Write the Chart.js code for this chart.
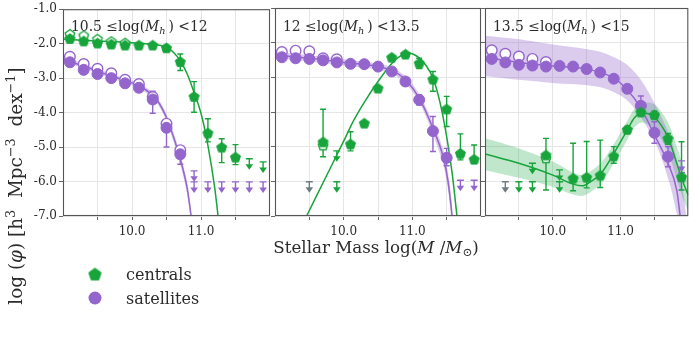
<!DOCTYPE html>
<html><head><meta charset="utf-8">
<script src="https://cdn.jsdelivr.net/npm/chart.js@4.4.1/dist/chart.umd.min.js"></script>
<style>
html,body{margin:0;padding:0;background:#fff;}
#wrap{position:relative;width:695px;height:343px;overflow:hidden;background:#fff;}
#wrap canvas{position:absolute;left:0;top:0;}
</style></head><body><div id="wrap">
<canvas id="p1" width="695" height="343"></canvas>
<canvas id="p2" width="695" height="343"></canvas>
<canvas id="p3" width="695" height="343"></canvas>
</div>
<script>
const N = null;
// ---------- shared bins & ticks ----------
const massBins = [9.1,9.3,9.5,9.7,9.9,10.1,10.3,10.5,10.7,10.9,11.1,11.3,11.5,11.7,11.9];
const xTickLabels = {10: '10.0', 11: '11.0'};
const yTicks = [-1,-2,-3,-4,-5,-6,-7];
const panelTitles = [
  ['10.5 ≤log(', ') <12'],
  ['12 ≤log(', ') <13.5'],
  ['13.5 ≤log(', ') <15']
];
const legendLabels = ['centrals', 'satellites'];

// ---------- Panel 1 : 10.5 <= log Mh < 12 ----------
const cen1     = [-1.85,-1.92,-1.98,-2.01,-2.04,-2.04,-2.04,-2.12,-2.52,-3.53,-4.59,-5.00,-5.29,N,N];
const cen1Open = [-1.72,-1.76,-1.86,-1.93,-1.97,N,N,N,N,N,N,N,N,N,N];
const cen1Hi   = [N,N,N,N,N,N,N,-2.05,-2.30,-3.10,-4.18,-4.76,-4.93,N,N];
const cen1Lo   = [N,N,N,N,N,N,N,-2.20,-2.78,-3.99,-4.85,-5.45,-5.51,N,N];
const cen1Lim  = [N,N,N,N,N,N,N,N,N,N,N,N,N,-5.34,-5.43];
const cen1Lim2 = [N,N,N,N,N,N,N,N,N,N,N,N,N,N,N];
const mix1Lim  = [N,N,N,N,N,N,N,N,N,N,N,N,N,N,N];
const sat1     = [-2.54,-2.76,-2.88,-3.00,-3.15,-3.28,-3.62,-4.44,-5.21,N,N,N,N,N,N];
const sat1Open = [-2.38,-2.59,-2.73,-2.86,-3.05,-3.17,-3.55,-4.32,-5.09,N,N,N,N,N,N];
const sat1Hi   = [-2.45,N,N,N,N,N,-3.38,-4.28,-5.00,N,N,N,N,N,N];
const sat1Lo   = [-2.62,N,N,N,N,N,-4.02,-5.00,-5.50,N,N,N,N,N,N];
const sat1Lim  = [N,N,N,N,N,N,N,N,N,-6.01,-6.01,-6.01,-6.01,-6.01,-6.01];
const sat1Lim2 = [N,N,N,N,N,N,N,N,N,-5.69,N,N,N,N,N];
const cenFit1X = [9.0,9.5,10.0,10.3,10.5,10.6,10.7,10.8,10.9,11.0,11.1,11.2,11.25];
const cenFit1Y = [-1.87,-1.92,-1.97,-2.02,-2.10,-2.25,-2.50,-2.88,-3.42,-4.02,-4.95,-6.20,-7.05];
const satFit1X = [9.0,9.3,9.6,9.9,10.1,10.3,10.4,10.5,10.6,10.7,10.8,10.86];
const satFit1Y = [-2.45,-2.65,-2.87,-3.07,-3.22,-3.50,-3.75,-4.15,-4.70,-5.35,-6.20,-7.05];
const satBand1Hi = [-2.38,-2.58,-2.80,-3.00,-3.15,-3.42,-3.66,-4.04,-4.57,-5.20,-6.02,-6.85];
const satBand1Lo = [-2.52,-2.72,-2.94,-3.14,-3.29,-3.58,-3.84,-4.26,-4.83,-5.50,-6.38,-7.25];

// ---------- Panel 2 : 12 <= log Mh < 13.5 ----------
const cen2     = [N,N,N,-4.86,N,-4.92,-4.32,-3.31,-2.42,-2.33,-2.59,-3.05,-3.91,-5.19,-5.36];
const cen2Open = [N,N,N,-4.96,N,N,N,N,N,N,N,N,N,N,N];
const cen2Hi   = [N,N,N,-3.92,N,-4.57,N,N,N,N,-2.45,-2.83,-3.55,-4.63,-4.95];
const cen2Lo   = [N,N,N,-5.29,N,-5.12,N,N,N,N,-2.75,-3.40,-4.42,-5.38,-5.48];
const cen2Lim  = [N,N,N,N,-5.12,N,N,N,N,N,N,N,N,N,N];
const cen2Lim2 = [N,N,N,N,-6.01,N,N,N,N,N,N,N,N,N,N];
const mix2Lim  = [N,N,-6.01,N,N,N,N,N,N,N,N,N,N,N,N];
const sat2     = [-2.42,-2.45,-2.47,-2.51,-2.57,-2.61,-2.62,-2.69,-2.83,-3.12,-3.65,-4.55,-5.32,N,N];
const sat2Open = [-2.27,-2.23,-2.25,-2.45,-2.48,N,N,N,N,N,N,N,N,N,N];
const sat2Hi   = [N,N,N,N,N,N,N,N,N,-3.02,-3.50,-4.13,-5.05,N,N];
const sat2Lo   = [N,N,N,N,N,N,N,N,N,-3.22,-3.80,-5.14,-5.55,N,N];
const sat2Lim  = [N,N,N,N,N,N,N,N,N,N,N,N,N,-5.97,-5.97];
const sat2Lim2 = [N,N,N,N,N,N,N,N,N,N,N,N,N,N,N];
const cenFit2X = [9.46,9.75,10.0,10.15,10.3,10.5,10.7,10.8,10.92,11.0,11.1,11.2,11.3,11.4,11.5,11.58,11.65];
const cenFit2Y = [-7.0,-5.84,-4.84,-4.23,-3.72,-3.12,-2.60,-2.42,-2.30,-2.32,-2.44,-2.66,-3.02,-3.70,-4.71,-5.77,-7.0];
const satFit2X = [9.0,9.5,10.0,10.5,10.7,10.9,11.1,11.3,11.45,11.52,11.58];
const satFit2Y = [-2.35,-2.45,-2.57,-2.69,-2.80,-3.07,-3.60,-4.47,-5.30,-6.00,-7.00];
const satBand2Hi = [-2.26,-2.36,-2.48,-2.60,-2.71,-2.97,-3.48,-4.30,-5.08,-5.75,-6.70];
const satBand2Lo = [-2.44,-2.54,-2.66,-2.78,-2.89,-3.17,-3.72,-4.64,-5.52,-6.25,-7.30];

// ---------- Panel 3 : 13.5 <= log Mh < 15 ----------
const cen3     = [N,N,N,N,-5.24,N,-5.91,-5.88,-5.82,-5.27,-4.50,-4.00,-4.08,-4.76,-5.87];
const cen3Open = [N,N,N,N,-5.33,N,N,N,N,N,N,N,N,N,N];
const cen3Hi   = [N,N,N,N,-4.76,N,-4.90,-4.85,-4.81,-5.00,-4.42,-3.92,-3.98,-4.62,-4.86];
const cen3Lo   = [N,N,N,N,-6.25,N,-6.27,-6.19,-6.18,-5.48,-4.60,-4.08,-4.18,-4.93,-6.25];
const cen3Lim  = [N,N,-6.01,-5.48,N,-5.67,N,N,N,N,N,N,N,N,N];
const cen3Lim2 = [N,N,N,-6.01,N,-6.01,N,N,N,N,N,N,N,N,N];
const mix3Lim  = [N,-6.01,N,N,N,N,N,N,N,N,N,N,N,N,N];
const sat3     = [-2.47,-2.57,-2.64,-2.66,-2.69,-2.67,-2.69,-2.76,-2.86,-3.04,-3.33,-3.82,-4.60,-5.29,N];
const sat3Open = [-2.22,-2.32,-2.40,-2.47,-2.56,N,N,N,N,N,N,N,N,N,N];
const sat3Hi   = [N,N,N,N,N,N,N,N,N,N,-3.22,-3.54,-4.28,-5.00,N];
const sat3Lo   = [N,N,N,N,N,N,N,N,N,N,-3.45,-4.08,-4.90,-5.58,N];
const sat3Lim  = [N,N,N,N,N,N,N,N,N,N,N,N,N,N,-5.41];
const sat3Lim2 = [N,N,N,N,N,N,N,N,N,N,N,N,N,N,-5.75];
const cenFit3X = [9.0,9.5,10.0,10.3,10.43,10.55,10.72,10.9,11.1,11.2,11.32,11.5,11.7,11.83,11.93,12.0];
const cenFit3Y = [-5.21,-5.48,-5.82,-6.08,-6.13,-6.02,-5.75,-5.20,-4.52,-4.18,-4.03,-4.15,-4.73,-5.48,-6.06,-6.40];
const cenBand3Hi = [-4.76,-5.05,-5.43,-5.75,-5.82,-5.72,-5.45,-4.93,-4.25,-3.92,-3.74,-3.78,-4.30,-5.00,-5.60,-6.00];
const cenBand3Lo = [-5.67,-5.90,-6.16,-6.38,-6.42,-6.32,-6.05,-5.48,-4.80,-4.45,-4.30,-4.50,-5.15,-5.95,-6.55,-6.85];
const satFit3X = [9.0,9.5,10.0,10.5,10.9,11.1,11.3,11.5,11.7,11.83,11.88];
const satFit3Y = [-2.42,-2.57,-2.67,-2.76,-3.02,-3.36,-3.89,-4.66,-5.48,-6.26,-7.00];
const satBand3X  = [9.0,9.5,10.0,10.67,11.06,11.3,11.54,11.73,11.83,11.92,11.97];
const satBand3Hi = [-1.80,-1.90,-2.05,-2.25,-2.59,-3.07,-3.89,-4.71,-5.38,-6.25,-7.00];
const satBand3Lo = [-2.96,-3.07,-3.16,-3.27,-3.60,-4.15,-5.00,-6.10,-6.93,-7.60,-8.00];

// ---------- styling ----------
const GREEN = '#17a43b', PURPLE = '#9466cd', GREY = '#6e7c82';
const GREEN_BAND = 'rgba(30,170,70,0.28)', PURPLE_BAND = 'rgba(146,100,204,0.33)';
const FONT = 'DejaVu Serif';
const TXT = '#2b2b2b';

function pts(xs, ys){ const o=[]; xs.forEach((x,i)=>{ if(ys[i]!==null && ys[i]!==undefined) o.push({x:x,y:ys[i]}); }); return o; }

function pentagon(fill, stroke, r, lw){
  const s = Math.ceil(r*2+4); const c=document.createElement('canvas'); c.width=s; c.height=s;
  const g=c.getContext('2d'); g.beginPath();
  for(let k=0;k<5;k++){ const a=-Math.PI/2+k*2*Math.PI/5; const px=s/2+r*Math.cos(a), py=s/2+r*Math.sin(a)+r*0.1; if(k) g.lineTo(px,py); else g.moveTo(px,py); }
  g.closePath(); g.fillStyle=fill; g.fill(); g.lineWidth=lw; g.strokeStyle=stroke; g.stroke(); return c;
}
const pentFilled = pentagon(GREEN, GREEN, 5.3, 1);
const pentOpen = pentagon('#ffffff', GREEN, 5.0, 1.4);
const pentLegend = pentagon(GREEN, GREEN, 6.5, 1);

const panels = [
 {cen:cen1,cenOpen:cen1Open,cenHi:cen1Hi,cenLo:cen1Lo,cenLims:[cen1Lim,cen1Lim2],mix:mix1Lim,
  sat:sat1,satOpen:sat1Open,satHi:sat1Hi,satLo:sat1Lo,satLims:[sat1Lim,sat1Lim2],
  fits:[{x:cenFit1X,y:cenFit1Y,c:GREEN},{x:satFit1X,y:satFit1Y,c:PURPLE}],
  bands:[{x:satFit1X,hi:satBand1Hi,lo:satBand1Lo,c:PURPLE_BAND}],
  pad:[0,425], showY:true},
 {cen:cen2,cenOpen:cen2Open,cenHi:cen2Hi,cenLo:cen2Lo,cenLims:[cen2Lim,cen2Lim2],mix:mix2Lim,
  sat:sat2,satOpen:sat2Open,satHi:sat2Hi,satLo:sat2Lo,satLims:[sat2Lim,sat2Lim2],
  fits:[{x:cenFit2X,y:cenFit2Y,c:GREEN},{x:satFit2X,y:satFit2Y,c:PURPLE}],
  bands:[{x:satFit2X,hi:satBand2Hi,lo:satBand2Lo,c:PURPLE_BAND}],
  pad:[275,214], showY:false},
 {cen:cen3,cenOpen:cen3Open,cenHi:cen3Hi,cenLo:cen3Lo,cenLims:[cen3Lim,cen3Lim2],mix:mix3Lim,
  sat:sat3,satOpen:sat3Open,satHi:sat3Hi,satLo:sat3Lo,satLims:[sat3Lim,sat3Lim2],
  fits:[{x:cenFit3X,y:cenFit3Y,c:GREEN},{x:satFit3X,y:satFit3Y,c:PURPLE}],
  bands:[{x:satBand3X,hi:satBand3Hi,lo:satBand3Lo,c:PURPLE_BAND},{x:cenFit3X,hi:cenBand3Hi,lo:cenBand3Lo,c:GREEN_BAND}],
  pad:[485,3], showY:false}
];

function richWidth(ctx, parts, size){
  let total = 0;
  parts.forEach(p => { ctx.font = (p.it?'italic ':'') + (p.small? size*0.7: size).toFixed(1) + 'px "' + FONT + '"'; total += ctx.measureText(p.t).width; });
  return total;
}
// draw mixed-style text; if target width given, font size is fitted to it
function drawRich(ctx, parts, x, y, size, align, target){
  if(target){ const w0 = richWidth(ctx, parts, size); size = size*target/w0; }
  const total = richWidth(ctx, parts, size);
  let cx = align==='center' ? x - total/2 : x;
  parts.forEach(p => {
    ctx.font = (p.it?'italic ':'') + (p.small? size*0.7: size).toFixed(1) + 'px "' + FONT + '"';
    const w = ctx.measureText(p.t).width;
    ctx.fillText(p.t, cx, y + (p.dy||0)*size/16); cx += w;
  });
  return total;
}

function panelPlugin(P, idx){
  let done = false;
  function drawStuff(chart){
    const ctx=chart.ctx, xs=chart.scales.x, ys=chart.scales.y, a=chart.chartArea;
    ctx.save(); ctx.beginPath(); ctx.rect(a.left,a.top,a.right-a.left,a.bottom-a.top); ctx.clip();
    ctx.lineWidth = 1.4;
    const eb = (hi, lo, col) => massBins.forEach((m,i)=>{
      if(hi[i]===null) return;
      const x=xs.getPixelForValue(m), y1=ys.getPixelForValue(hi[i]), y2=ys.getPixelForValue(lo[i]);
      ctx.strokeStyle=col; ctx.beginPath(); ctx.moveTo(x,y1); ctx.lineTo(x,y2);
      ctx.moveTo(x-3,y1); ctx.lineTo(x+3,y1); ctx.moveTo(x-3,y2); ctx.lineTo(x+3,y2); ctx.stroke();
    });
    const lim = (arr, col) => massBins.forEach((m,i)=>{
      if(arr[i]===null) return;
      const x=xs.getPixelForValue(m), y=ys.getPixelForValue(arr[i]);
      ctx.strokeStyle=col; ctx.fillStyle=col; ctx.beginPath();
      ctx.moveTo(x-3.5,y); ctx.lineTo(x+3.5,y); ctx.moveTo(x,y); ctx.lineTo(x,y+6); ctx.stroke();
      ctx.beginPath(); ctx.moveTo(x-3.8,y+5.5); ctx.lineTo(x+3.8,y+5.5); ctx.lineTo(x,y+11); ctx.closePath(); ctx.fill();
    });
    eb(P.satHi,P.satLo,PURPLE); eb(P.cenHi,P.cenLo,GREEN);
    P.satLims.forEach(l=>lim(l,PURPLE)); P.cenLims.forEach(l=>lim(l,GREEN)); lim(P.mix,GREY);
    ctx.restore();
  }
  return {
    id:'panel'+idx,
    beforeDatasetsDraw(){ done=false; },
    beforeDatasetDraw(chart,args){ if(!done && args.meta.order<=5){ drawStuff(chart); done=true; } },
    afterDraw(chart){
      const ctx=chart.ctx, a=chart.chartArea;
      ctx.save();
      ctx.strokeStyle='#555'; ctx.lineWidth=1.1; ctx.strokeRect(a.left+0.5,a.top+0.5,a.right-a.left-1,a.bottom-a.top-1);
      ctx.fillStyle=TXT; ctx.textBaseline='alphabetic';
      const T = panelTitles[idx];
      drawRich(ctx,[{t:T[0]},{t:'M',it:true},{t:'h',it:true,small:true,dy:3},{t:'\u2009'+T[1]}], a.left+8, 31, 14, 'left', 137);
      if(idx===0){
        // y title
        ctx.save(); ctx.translate(22,186); ctx.rotate(-Math.PI/2);
        drawRich(ctx,[{t:'log (',},{t:'\u03c6',it:true},{t:') [h'},{t:'3',small:true,dy:-6},{t:'  Mpc'},{t:'\u22123',small:true,dy:-6},{t:'  dex'},{t:'\u22121',small:true,dy:-6},{t:']'}],0,0,16,'center',238);
        ctx.restore();
        // x title
        drawRich(ctx,[{t:'Stellar Mass log('},{t:'M',it:true},{t:' /'},{t:'M',it:true},{t:'\u2299',small:true,dy:3},{t:')'}],376,253,16,'center',205);
        // legend
        ctx.drawImage(pentLegend, 95-pentLegend.width/2, 274-pentLegend.height/2);
        ctx.fillStyle=PURPLE; ctx.beginPath(); ctx.arc(95,298,6.5,0,Math.PI*2); ctx.fill();
        ctx.fillStyle=TXT; ctx.font='16px "'+FONT+'"';
        ctx.fillText(legendLabels[0],126,280); ctx.fillText(legendLabels[1],126,304);
      }
      ctx.restore();
    }
  };
}

function makeChart(id, P, idx){
  const ds = [];
  P.bands.forEach(b=>{
    ds.push({data:pts(b.x,b.hi),showLine:true,fill:'+1',backgroundColor:b.c,borderWidth:0,borderColor:'rgba(0,0,0,0)',pointRadius:0,order:20,clip:0,tension:0.3});
    ds.push({data:pts(b.x,b.lo),showLine:true,fill:false,borderWidth:0,borderColor:'rgba(0,0,0,0)',pointRadius:0,order:20,clip:0,tension:0.3});
  });
  P.fits.forEach(f=>ds.push({data:pts(f.x,f.y),showLine:true,fill:false,borderColor:f.c,borderWidth:1.5,pointRadius:0,cubicInterpolationMode:'monotone',order:15,clip:0}));
  ds.push({data:pts(massBins,P.satOpen),pointStyle:'circle',pointRadius:5.3,backgroundColor:'#fff',borderColor:PURPLE,borderWidth:1.4,order:5});
  ds.push({data:pts(massBins,P.cenOpen),pointStyle:pentOpen,pointRadius:5,order:5});
  ds.push({data:pts(massBins,P.sat),pointStyle:'circle',pointRadius:5.5,backgroundColor:PURPLE,borderColor:PURPLE,borderWidth:1,order:2});
  ds.push({data:pts(massBins,P.cen),pointStyle:pentFilled,pointRadius:5,order:1});
  return new Chart(document.getElementById(id),{
    type:'scatter',
    data:{datasets:ds},
    options:{
      responsive:false, animation:false, devicePixelRatio:1,
      layout:{padding:{left:P.pad[0],right:P.pad[1],top:8,bottom:0}},
      plugins:{legend:{display:false},tooltip:{enabled:false}},
      scales:{
        x:{type:'linear',min:9,max:12,
           afterBuildTicks:s=>{ s.ticks=[9.5,10,10.5,11,11.5].map(v=>({value:v})); },
           ticks:{autoSkip:false,maxRotation:0,padding:5,color:TXT,font:{family:FONT,size:12},callback:v=>xTickLabels[v]||''},
           grid:{color:'#e6e6e6',lineWidth:1,tickLength:4,tickColor:'#666'},
           border:{display:false},
           afterFit:s=>{ s.height=127; }},
        y:{type:'linear',min:-7,max:-1,
           afterBuildTicks:s=>{ s.ticks=yTicks.map(v=>({value:v})); },
           ticks:{display:P.showY,padding:2,color:TXT,font:{family:FONT,size:12},callback:v=>v.toFixed(1)},
           grid:{color:'#e6e6e6',lineWidth:1,tickLength:4,tickColor:'#666'},
           border:{display:false},
           afterFit:s=>{ s.width = P.showY ? 63 : 0; }}
      }
    },
    plugins:[panelPlugin(P, idx)]
  });
}
makeChart('p1', panels[0], 0);
makeChart('p2', panels[1], 1);
makeChart('p3', panels[2], 2);
</script></body></html>
